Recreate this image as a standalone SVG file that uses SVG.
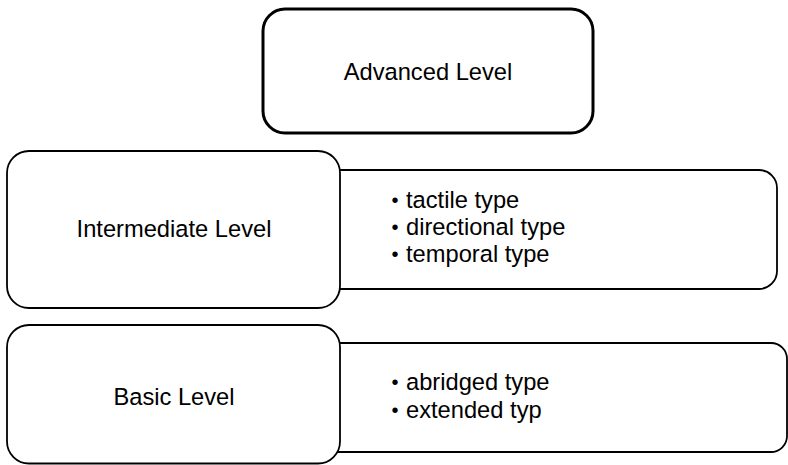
<svg xmlns="http://www.w3.org/2000/svg" width="788" height="465" viewBox="0 0 788 465">
<style>
  .box { fill: #ffffff; stroke: #000000; stroke-width: 1.8; }
  .thick { fill: #ffffff; stroke: #000000; stroke-width: 3; }
  .lbl { font-family: "Liberation Sans", Arial, sans-serif; font-size: 23.7px; fill: #000000; }
  .mid { text-anchor: middle; }
  .bul { font-size: 20px; }
</style>
<rect width="788" height="465" fill="#ffffff"/>
<g id="connectors"></g>
<g id="advanced">
  <rect class="thick" x="263" y="9" width="330" height="124" rx="22" ry="22"/>
  <text class="lbl mid" x="428" y="80">Advanced Level</text>
</g>
<g id="intermediate-list">
  <rect class="box" x="320" y="170" width="457" height="119" rx="18" ry="18"/>
  <text class="lbl" x="391.5" y="207"><tspan class="bul">•</tspan><tspan x="406" y="208">tactile type</tspan></text>
  <text class="lbl" x="391.5" y="234"><tspan class="bul">•</tspan><tspan x="406" y="235">directional type</tspan></text>
  <text class="lbl" x="391.5" y="261"><tspan class="bul">•</tspan><tspan x="406" y="262">temporal type</tspan></text>
</g>
<g id="intermediate">
  <rect class="box" x="7" y="151" width="333" height="157" rx="22" ry="22"/>
  <text class="lbl mid" x="174" y="237">Intermediate Level</text>
</g>
<g id="basic-list">
  <rect class="box" x="320" y="343" width="467" height="109" rx="16" ry="16"/>
  <text class="lbl" x="391.5" y="389"><tspan class="bul">•</tspan><tspan x="406" y="390">abridged type</tspan></text>
  <text class="lbl" x="391.5" y="417"><tspan class="bul">•</tspan><tspan x="406" y="418">extended typ</tspan></text>
</g>
<g id="basic">
  <rect class="box" x="7" y="325" width="333" height="138.5" rx="22" ry="22"/>
  <text class="lbl mid" x="174" y="405">Basic Level</text>
</g>
</svg>
